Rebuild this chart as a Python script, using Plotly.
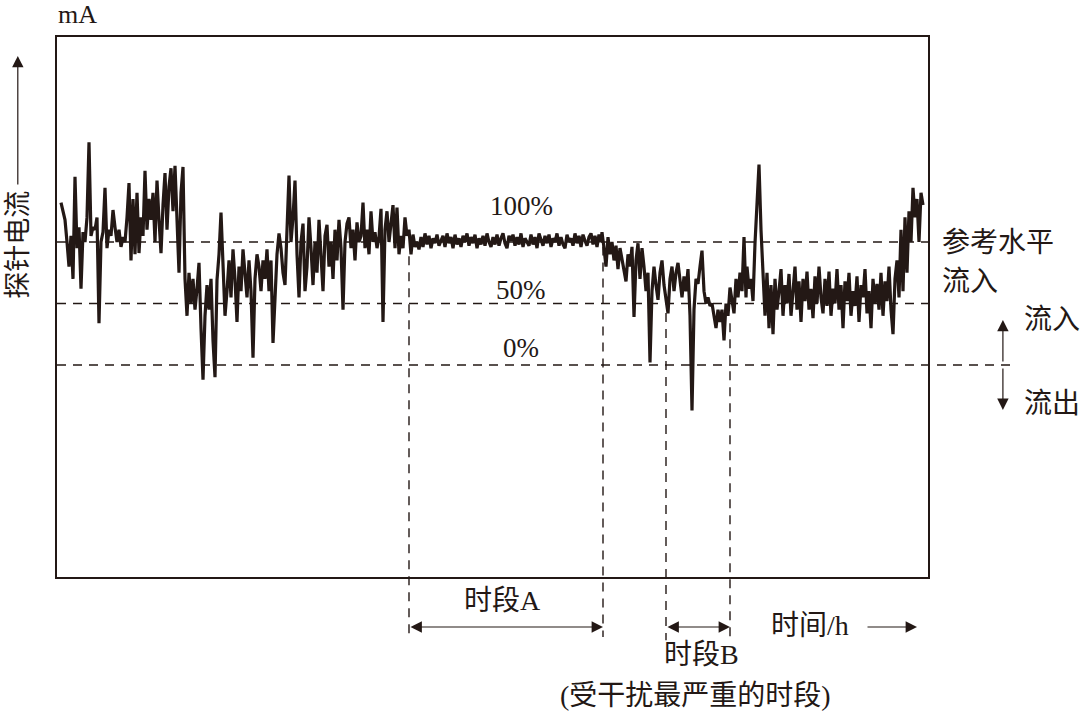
import plotly.graph_objects as go

# ---- data (time index ~ hours, probe current as % of reference level) ----
seg1_start, seg1_vals = 4, [
    132, 125, 118, 100, 80, 105, 70, 153, 95, 112,
    62, 108, 100, 120, 181, 105, 112, 110, 120, 34,
    100, 108, 144, 95, 110, 105, 126, 112, 100, 110,
    96, 104, 100, 120, 148, 85, 135, 90, 140, 91,
    120, 105, 158, 110, 135, 118, 140, 100, 150, 118,
    91, 130, 156, 110, 145, 160, 125, 162, 120, 75,
    140, 161, 70]
seg2_start, seg2_vals = 130, [
    40, 75, 50, 70, 45, 62, 83, 30, -12, 40,
    65, 45, 70, 20, -10, 69, 90, 124, 75, 40,
    60, 85, 55, 94, 70, 35, 80, 60, 94, 75,
    55, 85, 60, 6, 70, 90, 80, 60, 85, 70,
    94, 60, 85, 18, 60, 90, 107, 95, 75, 65,
    110, 154, 100, 120, 150, 90, 55, 100, 115, 60,
    80, 120, 95, 65, 100, 75, 118, 90, 60, 105,
    114, 80, 100, 70, 110, 85, 118, 95, 45, 100,
    115, 120, 95, 110, 85, 116, 100, 105, 132, 95,
    110, 90, 125, 100, 108, 95, 104, 127, 35, 110,
    125, 100, 115, 130, 95, 128, 90, 105, 95, 120,
    105, 110, 90, 106, 96, 100, 94]
seg3_start, seg3_vals = 364, [
    104, 96, 107, 98, 105, 95, 103, 99, 106, 97,
    102, 105, 96, 107, 99, 104, 95, 106, 98, 103,
    96, 105, 100, 107, 97, 104, 99, 106, 95, 103,
    98, 105, 97, 107, 100, 96, 104, 98, 106, 97,
    103, 107, 99, 95, 105, 101, 106, 97, 104, 98,
    107, 96, 103, 100, 97, 106, 98, 104, 95, 107,
    101, 97, 105, 99, 106, 96, 103, 100, 107, 97,
    104, 98, 95, 106, 100, 103, 97, 107, 99, 105,
    96, 106, 101, 97, 104, 107, 98, 105, 96, 106,
    100]
seg4_start, seg4_vals = 545, [
    108, 95, 80, 104, 90, 100, 85, 97, 78, 95, 85,
    75, 68, 90, 80, 96, 39, 85, 99, 70, 95,
    80, 60, 75, 2, 60, 80, 65, 53, 75, 85,
    65, 55, 42, 70, 80, 60, 75, 83, 68, 55,
    72, 60, 78, 40, -37, 45, 70, 66, 80, 93,
    60, 50, 55, 48, 50, 40, 30, 45, 35, 45,
    20, 50, 40, 63, 50, 42, 70, 55, 75, 60,
    104, 55]
seg5_start, seg5_vals = 690, [
    80, 62, 70, 52, 99, 134, 163, 110, 70, 40,
    75, 30, 65, 25, 70, 45, 60, 78, 40, 65,
    50, 74, 40, 60, 80, 45, 68, 35, 70, 52,
    76, 45, 62, 38, 72, 50, 80, 55, 42, 70,
    48, 76, 40, 62, 50, 78, 45, 65, 30, 68,
    52, 75, 40, 60, 48, 72, 35, 65, 55, 78,
    42, 60, 30, 70, 50, 66, 45, 75, 40, 68,
    52, 80, 45, 25, 70, 85, 55, 110, 60, 120,
    75, 125, 100, 144, 120, 135, 100, 140, 130]
sample_step = 2

ref_levels = [100, 50, 0]
ref_labels = ["100%", "50%", "0%"]
period_a = [352, 546]
period_b = [609, 673]
t_range = [0, 871]
y_range = [-172.4, 266.7]

segments = [(seg1_start, seg1_vals), (seg2_start, seg2_vals), (seg3_start, seg3_vals),
            (seg4_start, seg4_vals), (seg5_start, seg5_vals)]
t, v = [], []
for s, vals in segments:
    for i, val in enumerate(vals):
        t.append(s + sample_step * i)
        v.append(val)

INK = "#231815"
LAT = "Liberation Serif, Noto Sans CJK SC, serif"
FS = 28

fig = go.Figure()
fig.add_trace(go.Scatter(x=t, y=v, mode="lines",
                         line=dict(color=INK, width=3.2), hoverinfo="skip",
                         showlegend=False))

shapes = []
dash = "9px,7px"
for lvl in ref_levels:
    x1 = 1.098 if lvl == 0 else 1.0
    shapes.append(dict(type="line", xref="paper", yref="y", x0=0, x1=x1, y0=lvl, y1=lvl,
                       line=dict(color=INK, width=1.4, dash=dash), layer="below"))
for xa, ytop in [(period_a[0], 0.594), (period_a[1], 0.612)]:
    shapes.append(dict(type="line", xref="x", yref="paper", x0=xa, x1=xa, y0=ytop, y1=-0.111,
                       line=dict(color=INK, width=1.4, dash=dash), layer="below"))
for xb, ytop in [(period_b[0], 0.489), (period_b[1], 0.470)]:
    shapes.append(dict(type="line", xref="x", yref="paper", x0=xb, x1=xb, y0=ytop, y1=-0.117,
                       line=dict(color=INK, width=1.4, dash=dash), layer="below"))

ann = []
def text(x, y, s, xref="x", yref="y", xanchor="center", size=FS, angle=0):
    ann.append(dict(x=x, y=y, xref=xref, yref=yref, text=s, showarrow=False,
                    xanchor=xanchor, yanchor="middle", textangle=angle,
                    font=dict(family=LAT, size=size, color=INK)))

def arrow(x, y, ax, ay, xref, yref, axref="pixel", ayref="pixel", side="end"):
    ann.append(dict(x=x, y=y, xref=xref, yref=yref, ax=ax, ay=ay, axref=axref, ayref=ayref,
                    text="", showarrow=True, arrowhead=2, arrowsize=1.9, arrowwidth=1.2,
                    arrowcolor=INK, arrowside=side, standoff=0, startstandoff=0))

for lvl, lab, yy in zip(ref_levels, ref_labels, [129, 61, 14]):
    text(464, yy, lab, size=27)

text(0.024, 1.041, "mA", xref="paper", yref="paper", size=26)
text(-0.045, 0.615, "探针电流", xref="paper", yref="paper", angle=-90, size=27)
arrow(-0.045, 0.965, 0, 130, "paper", "paper")

text(1.014, 100, "参考水平", xref="paper", xanchor="left")
text(1.014, 67.5, "流入", xref="paper", xanchor="left")
text(1.108, 36.6, "流入", xref="paper", xanchor="left")
text(1.108, -31.7, "流出", xref="paper", xanchor="left")
arrow(1.086, 36.6, 0, 43, "paper", "y")
arrow(1.086, -36.6, 0, -43, "paper", "y")

arrow(period_a[1], -0.0926, period_a[0], 0, "x", "paper", axref="x", side="end+start")
arrow(period_b[1], -0.0926, period_b[0], 0, "x", "paper", axref="x", side="end+start")
text(sum(period_a) / 2 - 4, -0.043, "时段A", yref="paper")
text(sum(period_b) / 2 + 3, -0.144, "时段B", yref="paper")
text(753, -0.089, "时间/h", yref="paper")
arrow(860, -0.0926, 809, 0, "x", "paper", axref="x")
text(638, -0.219, "(受干扰最严重的时段)", yref="paper")

fig.update_layout(
    width=1080, height=716,
    margin=dict(l=57, r=152, t=37, b=139),
    paper_bgcolor="white", plot_bgcolor="white",
    shapes=shapes, annotations=ann, showlegend=False,
    xaxis=dict(range=t_range, showgrid=False, zeroline=False, showticklabels=False,
               ticks="", showline=True, mirror=True, linecolor=INK, linewidth=2),
    yaxis=dict(range=y_range, showgrid=False, zeroline=False, showticklabels=False,
               ticks="", showline=True, mirror=True, linecolor=INK, linewidth=2),
)
fig.write_html("out.html", config={"displayModeBar": False},
               post_script="document.body.style.margin='0';document.body.style.overflow='hidden';")
